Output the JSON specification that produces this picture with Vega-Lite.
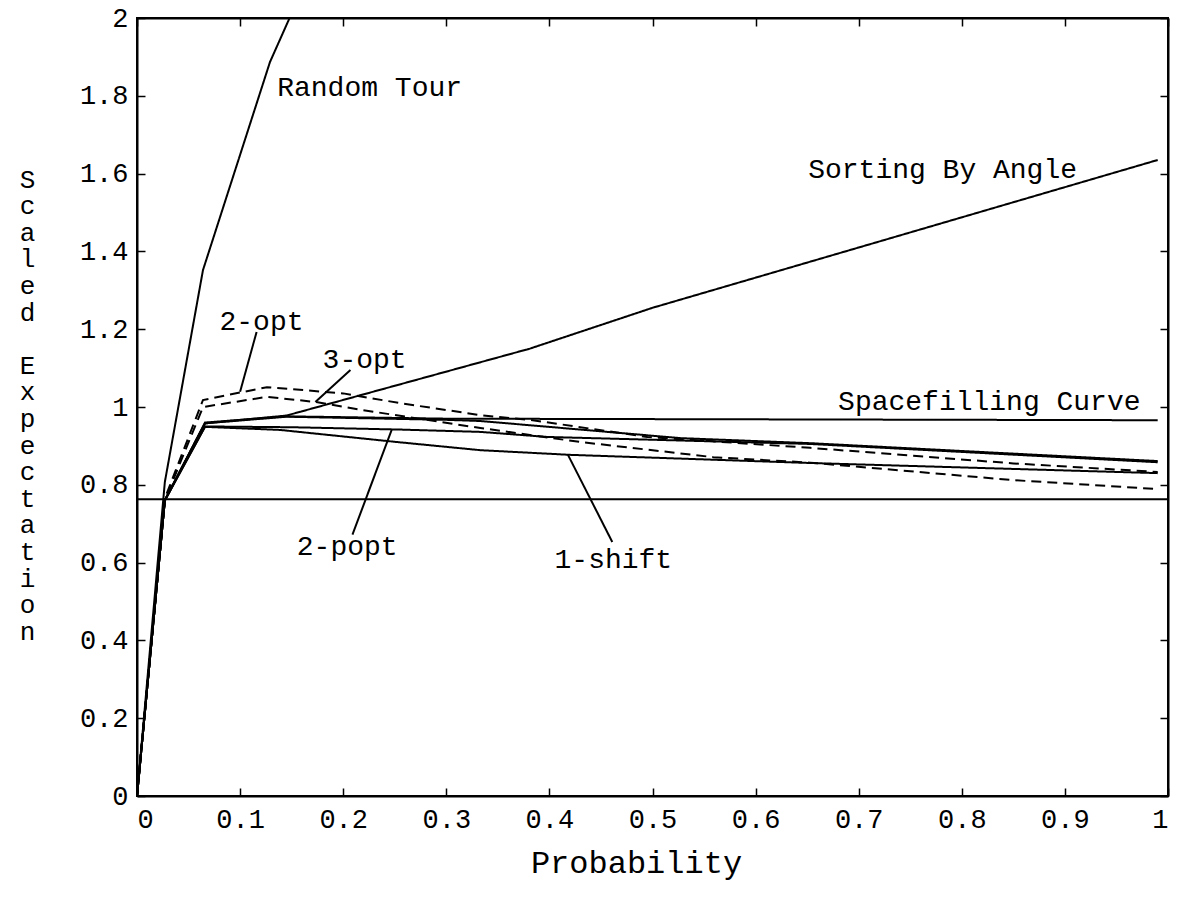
{
  "$schema": "https://vega.github.io/schema/vega-lite/v6.json",
  "autosize": "none",
  "width": 1031,
  "height": 778,
  "padding": {"left": 137, "top": 18, "right": 11, "bottom": 109},
  "background": "white",
  "config": {
    "font": "Liberation Mono",
    "view": {"stroke": "black", "strokeWidth": 2},
    "axis": {
      "grid": false,
      "domainColor": "black",
      "domainWidth": 2,
      "tickColor": "black",
      "tickWidth": 1.5,
      "tickSize": -8,
      "labelFont": "Liberation Mono",
      "labelFontSize": 27,
      "labelColor": "black",
      "titleFont": "Liberation Mono",
      "titleFontSize": 26,
      "titleFontWeight": "normal",
      "titleColor": "black"
    }
  },
  "datasets": {
    "curves": [
      {"series": "Random Tour", "p": 0, "e": 0},
      {"series": "Random Tour", "p": 0.027, "e": 0.807},
      {"series": "Random Tour", "p": 0.064, "e": 1.352},
      {"series": "Random Tour", "p": 0.129, "e": 1.887},
      {"series": "Random Tour", "p": 0.148, "e": 2.0},
      {"series": "Sorting By Angle", "p": 0, "e": 0},
      {"series": "Sorting By Angle", "p": 0.027, "e": 0.76},
      {"series": "Sorting By Angle", "p": 0.066, "e": 0.958},
      {"series": "Sorting By Angle", "p": 0.145, "e": 0.978},
      {"series": "Sorting By Angle", "p": 0.381, "e": 1.15},
      {"series": "Sorting By Angle", "p": 0.5, "e": 1.255},
      {"series": "Sorting By Angle", "p": 0.7, "e": 1.41},
      {"series": "Sorting By Angle", "p": 0.99, "e": 1.635},
      {"series": "Spacefilling Curve", "p": 0, "e": 0},
      {"series": "Spacefilling Curve", "p": 0.027, "e": 0.76},
      {"series": "Spacefilling Curve", "p": 0.066, "e": 0.96},
      {"series": "Spacefilling Curve", "p": 0.145, "e": 0.976},
      {"series": "Spacefilling Curve", "p": 0.3, "e": 0.97},
      {"series": "Spacefilling Curve", "p": 0.99, "e": 0.966},
      {"series": "2-opt", "p": 0, "e": 0},
      {"series": "2-opt", "p": 0.027, "e": 0.765},
      {"series": "2-opt", "p": 0.064, "e": 1.018},
      {"series": "2-opt", "p": 0.126, "e": 1.051},
      {"series": "2-opt", "p": 0.2, "e": 1.035},
      {"series": "2-opt", "p": 0.255, "e": 1.01},
      {"series": "2-opt", "p": 0.333, "e": 0.979},
      {"series": "2-opt", "p": 0.381, "e": 0.967},
      {"series": "2-opt", "p": 0.495, "e": 0.923},
      {"series": "2-opt", "p": 0.653, "e": 0.895},
      {"series": "2-opt", "p": 0.85, "e": 0.855},
      {"series": "2-opt", "p": 0.99, "e": 0.833},
      {"series": "3-opt", "p": 0, "e": 0},
      {"series": "3-opt", "p": 0.027, "e": 0.76},
      {"series": "3-opt", "p": 0.064, "e": 1.0},
      {"series": "3-opt", "p": 0.126, "e": 1.026},
      {"series": "3-opt", "p": 0.173, "e": 1.013},
      {"series": "3-opt", "p": 0.219, "e": 0.992},
      {"series": "3-opt", "p": 0.333, "e": 0.946},
      {"series": "3-opt", "p": 0.43, "e": 0.91},
      {"series": "3-opt", "p": 0.559, "e": 0.871},
      {"series": "3-opt", "p": 0.653, "e": 0.857},
      {"series": "3-opt", "p": 0.85, "e": 0.812},
      {"series": "3-opt", "p": 0.99, "e": 0.789},
      {"series": "other", "p": 0, "e": 0},
      {"series": "other", "p": 0.027, "e": 0.76},
      {"series": "other", "p": 0.066, "e": 0.958},
      {"series": "other", "p": 0.145, "e": 0.975},
      {"series": "other", "p": 0.3, "e": 0.967},
      {"series": "other", "p": 0.333, "e": 0.964},
      {"series": "other", "p": 0.527, "e": 0.92},
      {"series": "other", "p": 0.653, "e": 0.907},
      {"series": "other", "p": 0.99, "e": 0.861},
      {"series": "2-popt", "p": 0, "e": 0},
      {"series": "2-popt", "p": 0.027, "e": 0.76},
      {"series": "2-popt", "p": 0.066, "e": 0.95},
      {"series": "2-popt", "p": 0.15, "e": 0.948},
      {"series": "2-popt", "p": 0.255, "e": 0.942},
      {"series": "2-popt", "p": 0.333, "e": 0.936},
      {"series": "2-popt", "p": 0.398, "e": 0.923},
      {"series": "2-popt", "p": 0.653, "e": 0.905},
      {"series": "2-popt", "p": 0.99, "e": 0.858},
      {"series": "1-shift", "p": 0, "e": 0},
      {"series": "1-shift", "p": 0.027, "e": 0.76},
      {"series": "1-shift", "p": 0.066, "e": 0.949},
      {"series": "1-shift", "p": 0.139, "e": 0.941},
      {"series": "1-shift", "p": 0.252, "e": 0.91},
      {"series": "1-shift", "p": 0.333, "e": 0.889},
      {"series": "1-shift", "p": 0.42, "e": 0.877},
      {"series": "1-shift", "p": 0.653, "e": 0.856},
      {"series": "1-shift", "p": 0.99, "e": 0.83},
      {"series": "bound", "p": 0, "e": 0.763},
      {"series": "bound", "p": 1, "e": 0.763}
    ],
    "leaders": [
      {"name": "2-opt", "p": 0.116, "e": 1.193, "p2": 0.1, "e2": 1.039},
      {"name": "3-opt", "p": 0.207, "e": 1.095, "p2": 0.173, "e2": 1.013},
      {"name": "2-popt", "p": 0.209, "e": 0.672, "p2": 0.247, "e2": 0.941},
      {"name": "1-shift", "p": 0.418, "e": 0.877, "p2": 0.461, "e2": 0.653}
    ],
    "labels": [
      {"text": "Random Tour", "p": 0.136, "e": 1.82},
      {"text": "Sorting By Angle", "p": 0.651, "e": 1.609},
      {"text": "2-opt", "p": 0.08, "e": 1.218},
      {"text": "3-opt", "p": 0.18, "e": 1.121},
      {"text": "Spacefilling Curve", "p": 0.68, "e": 1.013},
      {"text": "2-popt", "p": 0.155, "e": 0.64},
      {"text": "1-shift", "p": 0.405, "e": 0.607}
    ]
  },
  "layer": [
    {
      "data": {"name": "curves"},
      "mark": {"type": "line", "strokeWidth": 2, "clip": true},
      "encoding": {
        "x": {"field": "p", "type": "quantitative", "scale": {"domain": [0, 1], "nice": false, "zero": false},
          "axis": {"orient": "bottom", "values": [0, 0.1, 0.2, 0.3, 0.4, 0.5, 0.6, 0.7, 0.8, 0.9, 1], "format": ".2~f", "labelPadding": 18, "title": "Probability", "titleFontSize": 32, "titleX": 499, "titleY": 66, "titleBaseline": "middle"}},
        "y": {"field": "e", "type": "quantitative", "scale": {"domain": [0, 2], "nice": false, "zero": false},
          "axis": {"orient": "left", "values": [0, 0.2, 0.4, 0.6, 0.8, 1, 1.2, 1.4, 1.6, 1.8, 2], "format": ".2~f", "labelPadding": 17,
            "title": ["S", "c", "a", "l", "e", "d", "\u200b", "E", "x", "p", "e", "c", "t", "a", "t", "i", "o", "n"],
            "titleAngle": 0, "titleX": -110, "titleY": 148, "titleAlign": "center", "titleBaseline": "top", "titleLineHeight": 26.6}},
        "detail": {"field": "series"},
        "color": {"value": "black"},
        "strokeDash": {"field": "series", "type": "nominal", "legend": null,
          "scale": {"domain": ["Random Tour", "Sorting By Angle", "Spacefilling Curve", "2-opt", "3-opt", "other", "2-popt", "1-shift", "bound"],
            "range": [[1, 0], [1, 0], [1, 0], [10, 6], [10, 6], [1, 0], [1, 0], [1, 0], [1, 0]]}}
      }
    },
    {
      "data": {"name": "leaders"},
      "mark": {"type": "rule", "strokeWidth": 2, "color": "black"},
      "encoding": {
        "x": {"field": "p", "type": "quantitative", "axis": null},
        "y": {"field": "e", "type": "quantitative", "axis": null},
        "x2": {"field": "p2"},
        "y2": {"field": "e2"}
      }
    },
    {
      "data": {"name": "labels"},
      "mark": {"type": "text", "align": "left", "baseline": "middle", "font": "Liberation Mono", "fontSize": 28, "color": "black"},
      "encoding": {
        "x": {"field": "p", "type": "quantitative", "axis": null},
        "y": {"field": "e", "type": "quantitative", "axis": null},
        "text": {"field": "text"}
      }
    },
    {
      "data": {"name": "curves"},
      "mark": {"type": "point", "opacity": 0},
      "encoding": {
        "x": {"field": "p", "type": "quantitative",
          "axis": {"orient": "top", "values": [0, 0.1, 0.2, 0.3, 0.4, 0.5, 0.6, 0.7, 0.8, 0.9, 1], "labels": false, "title": null}},
        "y": {"field": "e", "type": "quantitative",
          "axis": {"orient": "right", "values": [0, 0.2, 0.4, 0.6, 0.8, 1, 1.2, 1.4, 1.6, 1.8, 2], "labels": false, "title": null}}
      }
    }
  ],
  "resolve": {"axis": {"x": "independent", "y": "independent"}}
}
